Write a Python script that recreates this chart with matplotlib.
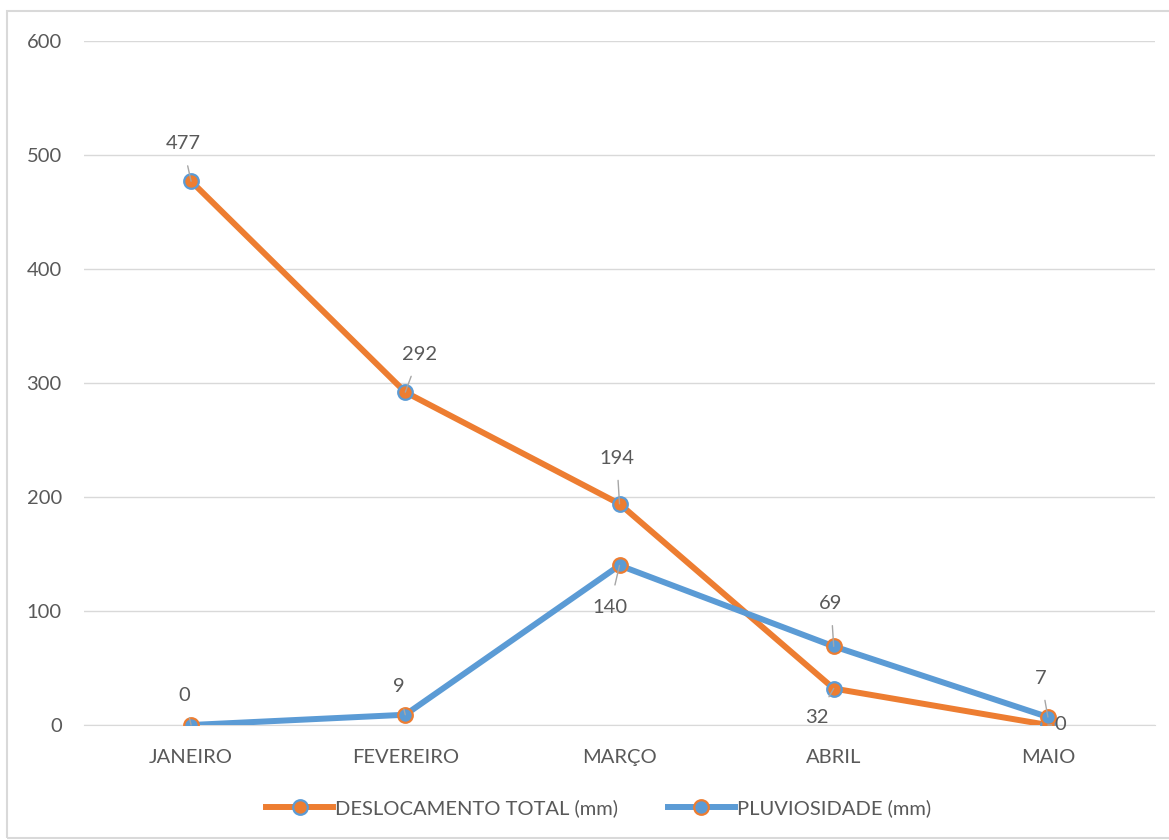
import matplotlib
matplotlib.use('Agg')
import matplotlib.pyplot as plt
from matplotlib.patches import Rectangle
from matplotlib.lines import Line2D

# dados
meses = ['JANEIRO', 'FEVEREIRO', 'MARÇO', 'ABRIL', 'MAIO']
deslocamento = [477, 292, 194, 32, 0]
pluviosidade = [0, 9, 140, 69, 7]

# posicao dos rotulos (offset em pontos)
off_desl = [(-6, 27), (10, 27), (-2, 33), (-12, -21), (9, 0)]
off_pluv = [(-5, 21), (-5, 20), (-7, -30), (-2, 31), (-5, 28)]

azul = '#5B9BD5'
laranja = '#ED7D31'
cinza = '#595959'

plt.rcParams['font.family'] = ['Lato', 'DejaVu Sans']

fig = plt.figure(figsize=(11.69, 8.4), dpi=100)
ax = fig.add_axes([84 / 1169, 1 - 725 / 840, (1155 - 84) / 1169, (725 - 41) / 840])

x = list(range(len(meses)))
ax.plot(x, deslocamento, color=laranja, lw=4.3, marker='o', ms=10.5,
        mfc=laranja, mec=azul, mew=1.6, zorder=3, solid_capstyle='round')
ax.plot(x, pluviosidade, color=azul, lw=4.3, marker='o', ms=10.5,
        mfc=azul, mec=laranja, mew=1.6, zorder=4, solid_capstyle='round')

for xi, v, o in zip(x, deslocamento, off_desl):
    ax.annotate(str(v), (xi, v), xytext=o, textcoords='offset points',
                ha='center', va='center', fontsize=14.5, color=cinza,
                arrowprops=dict(arrowstyle='-', color='#A6A6A6', lw=1,
                                shrinkA=8, shrinkB=0), zorder=6)
for xi, v, o in zip(x, pluviosidade, off_pluv):
    ax.annotate(str(v), (xi, v), xytext=o, textcoords='offset points',
                ha='center', va='center', fontsize=14.5, color=cinza,
                arrowprops=dict(arrowstyle='-', color='#A6A6A6', lw=1,
                                shrinkA=8, shrinkB=0), zorder=6)

ax.set_xlim(-0.5, 4.5)
ax.set_ylim(0, 600)
ax.set_yticks(range(0, 601, 100))
ax.set_xticks(x)
ax.set_xticklabels(meses)
ax.grid(axis='y', color='#D9D9D9', lw=1)
ax.set_axisbelow(True)
for s in ['top', 'right', 'left']:
    ax.spines[s].set_visible(False)
ax.spines['bottom'].set_color('#D9D9D9')
ax.tick_params(axis='both', length=0, labelsize=14.5, colors=cinza)
ax.tick_params(axis='x', pad=17)
ax.tick_params(axis='y', pad=16)

handles = [
    Line2D([], [], color=laranja, lw=4.3, marker='o', ms=10.5, mfc=laranja, mec=azul, mew=1.6),
    Line2D([], [], color=azul, lw=4.3, marker='o', ms=10.5, mfc=azul, mec=laranja, mew=1.6),
]
fig.legend(handles, ['DESLOCAMENTO TOTAL (mm)', 'PLUVIOSIDADE (mm)'],
           loc='center', bbox_to_anchor=(0.512, 1 - 808 / 840), ncol=2,
           frameon=False, fontsize=14.5, labelcolor=cinza, handlelength=3.3,
           handletextpad=0.1, columnspacing=2.5)

# moldura do grafico
fig.patches.append(Rectangle((7 / 1169, 2 / 840), 1.0, 1 - 13 / 840,
                             transform=fig.transFigure, fill=False,
                             edgecolor='#D9D9D9', lw=1.5))

fig.savefig('out.png', dpi=100)
